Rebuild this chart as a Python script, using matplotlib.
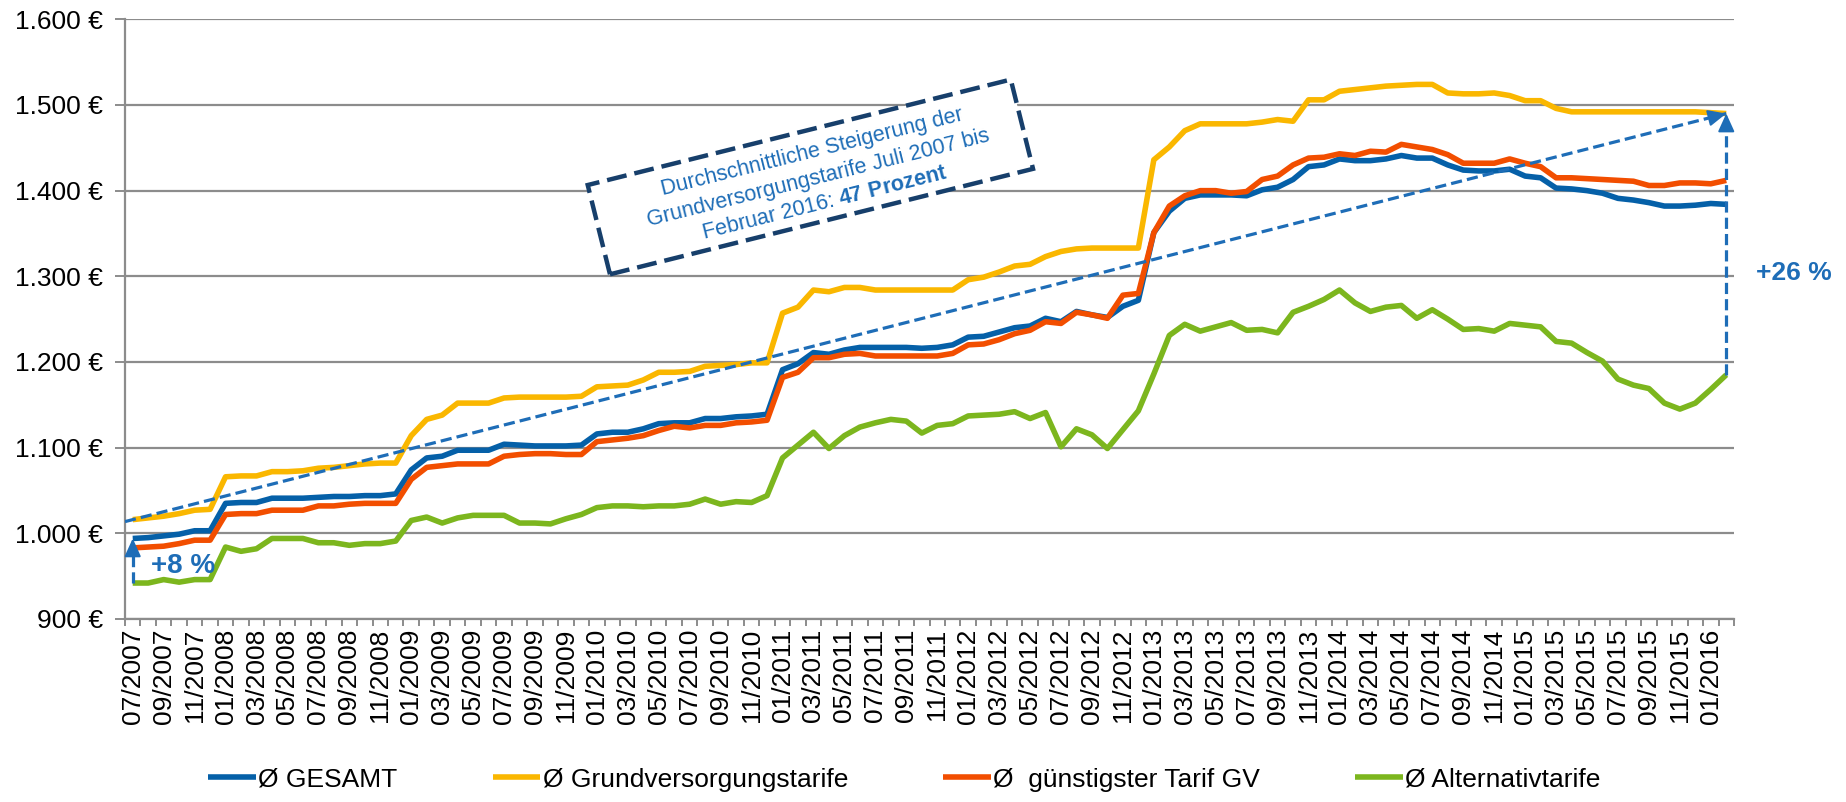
import matplotlib
matplotlib.use("Agg")
import matplotlib.pyplot as plt
import matplotlib.transforms as mtransforms
from matplotlib.patches import Rectangle
import numpy as np
import pandas as pd

plt.rcParams['font.family'] = ['Liberation Sans', 'DejaVu Sans']
plt.rcParams['mathtext.fontset'] = 'custom'
plt.rcParams['mathtext.rm'] = 'Liberation Sans'
plt.rcParams['mathtext.bf'] = 'Liberation Sans:bold'

# ---- data (monthly, 07/2007 .. 02/2016) ----
months = pd.date_range('2007-07-01', '2016-02-01', freq='MS').strftime('%m/%Y').tolist()

gesamt = [
    994, 995, 997, 999, 1003, 1003, 1035, 1036, 1036, 1041,
    1041, 1041, 1042, 1043, 1043, 1044, 1044, 1046, 1074, 1088,
    1090, 1097, 1097, 1097, 1104, 1103, 1102, 1102, 1102, 1103,
    1116, 1118, 1118, 1122, 1128, 1129, 1129, 1134, 1134, 1136,
    1137, 1139, 1191, 1198, 1211, 1209, 1214, 1217, 1217, 1217,
    1217, 1216, 1217, 1220, 1229, 1230, 1235, 1240, 1242, 1251,
    1247, 1259, 1255, 1252, 1265, 1272, 1351, 1376, 1391, 1395,
    1395, 1395, 1394, 1401, 1404, 1413, 1428, 1430, 1437, 1435,
    1435, 1437, 1441, 1438, 1438, 1430, 1424, 1423, 1423, 1425,
    1417, 1415, 1403, 1402, 1400, 1397, 1391, 1389, 1386, 1382,
    1382, 1383, 1385, 1384]

grundversorgung = [
    1016, 1018, 1020, 1023, 1027, 1028, 1066, 1067, 1067, 1072,
    1072, 1073, 1076, 1077, 1079, 1081, 1082, 1082, 1114, 1133,
    1138, 1152, 1152, 1152, 1158, 1159, 1159, 1159, 1159, 1160,
    1171, 1172, 1173, 1179, 1188, 1188, 1189, 1195, 1196, 1197,
    1199, 1199, 1257, 1264, 1284, 1282, 1287, 1287, 1284, 1284,
    1284, 1284, 1284, 1284, 1296, 1299, 1305, 1312, 1314, 1323,
    1329, 1332, 1333, 1333, 1333, 1333, 1436, 1451, 1470, 1478,
    1478, 1478, 1478, 1480, 1483, 1481, 1506, 1506, 1516, 1518,
    1520, 1522, 1523, 1524, 1524, 1514, 1513, 1513, 1514, 1511,
    1505, 1505, 1496, 1492, 1492, 1492, 1492, 1492, 1492, 1492,
    1492, 1492, 1491, 1490]

guenstigster = [
    983, 984, 985, 988, 992, 992, 1022, 1023, 1023, 1027,
    1027, 1027, 1032, 1032, 1034, 1035, 1035, 1035, 1063, 1077,
    1079, 1081, 1081, 1081, 1090, 1092, 1093, 1093, 1092, 1092,
    1107, 1109, 1111, 1114, 1120, 1125, 1123, 1126, 1126, 1129,
    1130, 1132, 1182, 1188, 1205, 1205, 1209, 1210, 1207, 1207,
    1207, 1207, 1207, 1210, 1220, 1221, 1226, 1233, 1237, 1247,
    1245, 1258, 1255, 1251, 1278, 1280, 1351, 1382, 1394, 1400,
    1400, 1397, 1399, 1413, 1417, 1430, 1438, 1439, 1443, 1441,
    1446, 1445, 1454, 1451, 1448, 1442, 1432, 1432, 1432, 1437,
    1432, 1428, 1415, 1415, 1414, 1413, 1412, 1411, 1406, 1406,
    1409, 1409, 1408, 1412]

alternativ = [
    942, 942, 946, 943, 946, 946, 984, 979, 982, 994,
    994, 994, 989, 989, 986, 988, 988, 991, 1015, 1019,
    1012, 1018, 1021, 1021, 1021, 1012, 1012, 1011, 1017, 1022,
    1030, 1032, 1032, 1031, 1032, 1032, 1034, 1040, 1034, 1037,
    1036, 1044, 1088, 1103, 1118, 1099, 1114, 1124, 1129, 1133,
    1131, 1117, 1126, 1128, 1137, 1138, 1139, 1142, 1134, 1141,
    1101, 1122, 1115, 1099, 1121, 1143, 1186, 1231, 1244, 1236,
    1241, 1246, 1237, 1238, 1234, 1258, 1265, 1273, 1284, 1269,
    1259, 1264, 1266, 1251, 1261, 1250, 1238, 1239, 1236, 1245,
    1243, 1241, 1224, 1222, 1211, 1201, 1180, 1173, 1169, 1152,
    1145, 1152, 1168, 1185]

series_labels = ['Ø GESAMT', 'Ø Grundversorgungstarife',
                 'Ø  günstigster Tarif GV', 'Ø Alternativtarife']
series_colors = ['#0560A8', '#FAB700', '#F24E00', '#7CB61E']

box_text = ("Durchschnittliche Steigerung der\n"
            "Grundversorgungstarife Juli 2007 bis\n"
            "Februar 2016: $\\mathbf{47\\ Prozent}$")
label_left = '+8 %'
label_right = '+26 %'

# ---- figure ----
W, H = 1846, 802
fig = plt.figure(figsize=(W / 100, H / 100), dpi=100)
ax = fig.add_axes([125 / W, 1 - 619 / H, (1734 - 125) / W, (619 - 19.3) / H])

x = np.arange(len(months))
all_series = [gesamt, grundversorgung, guenstigster, alternativ]
handles = []
for vals, lab, col in zip(all_series, series_labels, series_colors):
    ln, = ax.plot(x, vals, color=col, lw=4.0, label=lab, zorder=3,
                  solid_joinstyle='round', solid_capstyle='butt')
    handles.append(ln)

ax.set_xlim(-0.5, len(months) - 0.5)
ax.set_ylim(900, 1600)
yt = np.arange(900, 1601, 100)
ax.set_yticks(yt)
ax.set_yticklabels([f"{v:,.0f} €".replace(',', '.') for v in yt])

ax.set_xticks(x[::2])
ax.set_xticklabels(months[::2], rotation=90)
ax.set_xticks(np.arange(-0.5, len(months), 1), minor=True)

grid_col = '#8C8C8C'
ax.grid(axis='y', color=grid_col, lw=1.6, zorder=1)
ax.set_axisbelow(True)
for s in ['top', 'right']:
    ax.spines[s].set_visible(False)
for s in ['left', 'bottom']:
    ax.spines[s].set_color(grid_col)
    ax.spines[s].set_linewidth(1.6)

ax.tick_params(axis='x', which='major', length=0, pad=7, labelsize=19)
ax.tick_params(axis='x', which='minor', length=5, width=1.4, color=grid_col)
ax.tick_params(axis='y', which='major', length=7, width=1.4, color=grid_col,
               pad=9, labelsize=19)

# ---- annotations ----
ann_col = '#1E6DB7'
dash = (0, (3.5, 1.6))
n = len(months) - 1
slope = (grundversorgung[-1] - grundversorgung[0]) / n
x0 = -0.5
y0 = grundversorgung[0] + x0 * slope
ax.plot([x0, n], [y0, grundversorgung[-1]], color=ann_col, lw=2.3,
        ls=dash, zorder=4, dash_capstyle='butt')

head = dict(arrowstyle='-|>,head_length=11,head_width=5', color=ann_col,
            lw=1.5, shrinkA=0, shrinkB=0, mutation_scale=1)
ax.annotate('', xy=(n, grundversorgung[-1]),
            xytext=(n - 1.0, grundversorgung[-1] - slope * 1.0),
            arrowprops=head, zorder=5)

# vertical arrow at start
ax.plot([0, 0], [alternativ[0], gesamt[0] - 6], color=ann_col, lw=2.3,
        ls=dash, zorder=4)
ax.annotate('', xy=(0, gesamt[0]), xytext=(0, gesamt[0] - 12),
            arrowprops=head, zorder=5)
ax.text(1.2, 962, label_left, color=ann_col, fontsize=20, fontweight='bold',
        ha='left', va='center', zorder=6)

# vertical arrow at end
ax.plot([n, n], [alternativ[-1], grundversorgung[-1] - 10], color=ann_col,
        lw=2.3, ls=dash, zorder=4)
ax.annotate('', xy=(n, grundversorgung[-1]), xytext=(n, grundversorgung[-1] - 20),
            arrowprops=head, zorder=5)
ax.text(104.9, 1304, label_right, color=ann_col, fontsize=19,
        fontweight='bold', ha='left', va='center', zorder=6, clip_on=False)

# rotated dashed text box
box_xy = (43.8, 1416)
fig.canvas.draw()
cx, cy = ax.transData.transform(box_xy)
bw, bh = 436, 92
tr = mtransforms.Affine2D().rotate_deg(14).translate(cx, cy)
rect = Rectangle((-bw / 2, -bh / 2), bw, bh, facecolor='white',
                 edgecolor='#173F6B', lw=3.2, ls=(0, (4.5, 1.8)), zorder=7)
ax.add_patch(rect)
rect.set_transform(tr)
rect.set_clip_on(False)
ax.text(44.3, 1415, box_text, color=ann_col, fontsize=15.5,
        rotation=14, rotation_mode='anchor', ha='center', va='center',
        multialignment='center', linespacing=1.32, zorder=8)

# ---- legend ----
fig.legend(handles=handles, loc='center', bbox_to_anchor=(0.49, 0.028),
           ncol=4, frameon=False, fontsize=19, handlelength=1.8,
           handletextpad=0.1, columnspacing=3.6)

fig.savefig('out.png', dpi=100)
